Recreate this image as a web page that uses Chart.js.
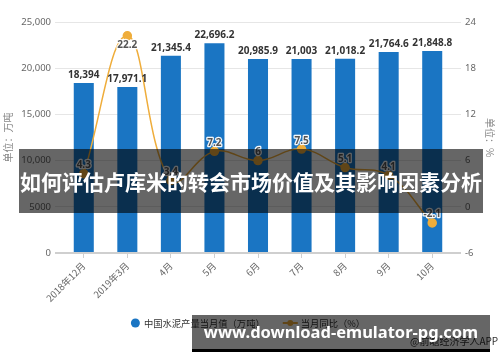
<!DOCTYPE html>
<html>
<head>
<meta charset="utf-8">
<script src="https://cdn.jsdelivr.net/npm/chart.js@4/dist/chart.umd.min.js"></script>
<style>
  html, body { margin: 0; padding: 0; background: #fff; }
  #wrap { position: relative; width: 500px; height: 362px; overflow: hidden; }
  #c { position: absolute; left: 0; top: 0; }
  .band { position: absolute; left: 19px; top: 149px; width: 464px; height: 64px;
          background: rgba(0,0,0,0.6); color: #fff; font: bold 21px "Noto Sans CJK SC", sans-serif;
          line-height: 64px; text-align: center; white-space: nowrap; }
  .src { position: absolute; left: 410px; top: 333px; font: 10px "Noto Sans CJK SC", sans-serif; color: #333; white-space: nowrap; }
  .wm { position: absolute; left: 192px; top: 315px; width: 298px; height: 34px;
        background: rgba(0,0,0,0.6); border-bottom: 3px solid #000; color: #fff;
        font: bold 16.5px "Noto Sans", "DejaVu Sans", sans-serif; line-height: 34px; text-align: center; white-space: nowrap; }
</style>
</head>
<body>
<div id="wrap">
  <canvas id="c" width="500" height="362"></canvas>
  <div class="band">如何评估卢库米的转会市场价值及其影响因素分析</div>
  <div class="src">@前瞻经济学人APP</div>
  <div class="wm">www.download-emulator-pg.com</div>
</div>
<script>
const categories = ['2018年12月', '2019年3月', '4月', '5月', '6月', '7月', '8月', '9月', '10月'];
const outputValues = [18394, 17971.1, 21345.4, 22696.2, 20985.9, 21003, 21018.2, 21764.6, 21848.8];
const yoyValues = [4.3, 22.2, 3.4, 7.2, 6, 7.5, 5.1, 4.1, -2.1];
const seriesNames = ['中国水泥产量当月值（万吨）', '当月同比（%）'];
const leftAxis = { min: 0, max: 25000, step: 5000, title: '单位：万吨' };
const rightAxis = { min: -6, max: 24, step: 6, title: '单位：%' };

const BLUE = '#1a75c3';
const GOLD = '#efad3b';
const NUM_FONT = '"Noto Sans", "Noto Sans CJK SC", sans-serif';
const CJK_FONT = '"Noto Sans CJK SC", "Noto Sans", sans-serif';

function fmtLeft(v) {
  return v >= 10000 ? v.toLocaleString('en-US') : String(v);
}

const labelPlugin = {
  id: 'valueLabels',
  afterDatasetsDraw(chart) {
    const ctx = chart.ctx;
    ctx.save();
    const barMeta = chart.getDatasetMeta(0);
    ctx.font = 'bold 10px ' + NUM_FONT;
    ctx.fillStyle = '#333';
    ctx.textAlign = 'center';
    ctx.textBaseline = 'alphabetic';
    barMeta.data.forEach((el, i) => {
      const v = chart.data.datasets[0].data[i];
      ctx.fillText(v.toLocaleString('en-US', { maximumFractionDigits: 1 }), el.x, el.y - 5);
    });
    const lineMeta = chart.getDatasetMeta(1);
    ctx.font = 'bold 10px ' + NUM_FONT;
    ctx.lineWidth = 2.5;
    ctx.strokeStyle = 'rgba(255,255,255,0.95)';
    ctx.lineJoin = 'round';
    ctx.fillStyle = '#555';
    lineMeta.data.forEach((el, i) => {
      const v = chart.data.datasets[1].data[i];
      const below = (el.y - chart.chartArea.top) < 20;
      const y = below ? el.y + 12.5 : el.y - 5.5;
      ctx.strokeText(String(v), el.x, y);
      ctx.fillText(String(v), el.x, y);
    });
    ctx.restore();
  }
};

const legendPlugin = {
  id: 'customLegend',
  afterDraw(chart) {
    const ctx = chart.ctx;
    ctx.save();
    ctx.font = '9.3px ' + CJK_FONT;
    const t1 = chart.data.datasets[0].label, t2 = chart.data.datasets[1].label;
    const w1 = ctx.measureText(t1).width, w2 = ctx.measureText(t2).width;
    const total = 9 + 4 + w1 + 18 + 15 + 3 + w2;
    let x = 248 - total / 2;
    const y = 323;
    ctx.fillStyle = BLUE;
    ctx.beginPath(); ctx.arc(x + 4.5, y, 4.5, 0, Math.PI * 2); ctx.fill();
    x += 13;
    ctx.fillStyle = '#333';
    ctx.textAlign = 'left';
    ctx.textBaseline = 'middle';
    ctx.fillText(t1, x, y);
    x += w1 + 18;
    ctx.strokeStyle = GOLD; ctx.lineWidth = 2;
    ctx.beginPath(); ctx.moveTo(x, y); ctx.lineTo(x + 15, y); ctx.stroke();
    ctx.fillStyle = GOLD;
    ctx.beginPath(); ctx.arc(x + 7.5, y, 3, 0, Math.PI * 2); ctx.fill();
    x += 18;
    ctx.fillStyle = '#333';
    ctx.fillText(t2, x, y);
    ctx.restore();
  }
};

new Chart(document.getElementById('c'), {
  data: {
    labels: categories,
    datasets: [
      { type: 'bar', label: seriesNames[0], data: outputValues, backgroundColor: BLUE,
        yAxisID: 'y', order: 1, barPercentage: 0.46, categoryPercentage: 1 },
      { type: 'line', label: seriesNames[1], data: yoyValues, borderColor: GOLD, borderWidth: 1.5,
        backgroundColor: GOLD, pointBackgroundColor: GOLD, pointBorderColor: GOLD,
        pointRadius: 4, tension: 0.4, yAxisID: 'y1', order: 0 }
    ]
  },
  options: {
    responsive: false,
    animation: false,
    layout: { padding: { top: 22, left: 0, right: 0, bottom: 0 } },
    plugins: { legend: { display: false }, tooltip: { enabled: false } },
    scales: {
      x: {
        offset: true,
        grid: { display: true, drawOnChartArea: false, drawTicks: true, tickLength: 5, offset: false, color: '#cfcfcf' },
        border: { display: true, color: '#cfcfcf', width: 2 },
        ticks: { autoSkip: false, maxRotation: 45, minRotation: 45, padding: 2,
                 color: '#666', font: { size: 9.5, family: CJK_FONT } },
        afterFit(s) { s.height = 109; }
      },
      y: {
        position: 'left', min: leftAxis.min, max: leftAxis.max,
        ticks: { stepSize: leftAxis.step, padding: 4, color: '#666',
                 font: { size: 9.5, family: NUM_FONT }, callback: v => fmtLeft(v) },
        grid: { tickLength: 7, color: c => c.tick && c.tick.value === 0 ? '#cfcfcf' : '#e6e6e6',
                lineWidth: c => c.tick && c.tick.value === 0 ? 2 : 1 },
        border: { display: false },
        title: { display: true, text: leftAxis.title, color: '#888', font: { size: 10, family: CJK_FONT },
                 padding: { top: 2, bottom: 0 } },
        afterFit(s) { s.width = 62; }
      },
      y1: {
        position: 'right', min: rightAxis.min, max: rightAxis.max,
        ticks: { stepSize: rightAxis.step, padding: 4, color: '#666', font: { size: 9.5, family: NUM_FONT } },
        grid: { drawOnChartArea: false, tickLength: 7, color: c => c.tick && c.tick.value === rightAxis.min ? '#cfcfcf' : '#e6e6e6',
                lineWidth: c => c.tick && c.tick.value === rightAxis.min ? 2 : 1 },
        border: { display: false },
        title: { display: true, text: rightAxis.title, color: '#888', font: { size: 10, family: CJK_FONT },
                 padding: { top: 4, bottom: 0 } },
        afterFit(s) { s.width = 46; }
      }
    }
  },
  plugins: [labelPlugin, legendPlugin]
});
</script>
</body>
</html>
